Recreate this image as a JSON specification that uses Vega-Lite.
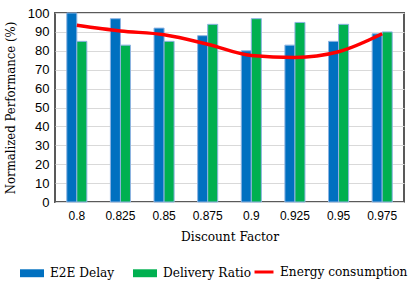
{
  "$schema": "https://vega.github.io/schema/vega-lite/v6.json",
  "width": 349,
  "height": 189,
  "autosize": "none",
  "padding": {"left": 55, "top": 13, "right": 11, "bottom": 90},
  "background": "white",
  "config": {
    "view": {"stroke": "#595959", "strokeWidth": 2},
    "axis": {"labelColor": "black", "titleColor": "black", "titleFontWeight": "normal", "ticks": false, "domain": false},
    "axisX": {"labelFont": "Liberation Sans", "labelFontSize": 12, "labelPadding": 8, "labelAngle": 0, "titleFont": "DejaVu Serif Condensed", "titleFontSize": 13.5, "titlePadding": 8, "grid": false},
    "axisY": {"labelFont": "Liberation Sans", "labelFontSize": 13, "labelPadding": 6, "labelOverlap": false, "titleFont": "DejaVu Serif Condensed", "titleFontSize": 13, "titlePadding": 10, "gridColor": "#D9D9D9", "gridWidth": 1},
    "legend": {"labelFont": "DejaVu Serif Condensed", "labelFontSize": 13.5, "labelColor": "black", "padding": 0}
  },
  "data": {
    "values": [
      {"factor": "0.8", "series": "E2E Delay", "value": 100},
      {"factor": "0.825", "series": "E2E Delay", "value": 97},
      {"factor": "0.85", "series": "E2E Delay", "value": 92},
      {"factor": "0.875", "series": "E2E Delay", "value": 88},
      {"factor": "0.9", "series": "E2E Delay", "value": 80},
      {"factor": "0.925", "series": "E2E Delay", "value": 83},
      {"factor": "0.95", "series": "E2E Delay", "value": 85},
      {"factor": "0.975", "series": "E2E Delay", "value": 89},
      {"factor": "0.8", "series": "Delivery Ratio", "value": 85},
      {"factor": "0.825", "series": "Delivery Ratio", "value": 83},
      {"factor": "0.85", "series": "Delivery Ratio", "value": 85},
      {"factor": "0.875", "series": "Delivery Ratio", "value": 94},
      {"factor": "0.9", "series": "Delivery Ratio", "value": 97},
      {"factor": "0.925", "series": "Delivery Ratio", "value": 95},
      {"factor": "0.95", "series": "Delivery Ratio", "value": 94},
      {"factor": "0.975", "series": "Delivery Ratio", "value": 90},
      {"factor": "0.8", "series": "Energy consumption", "value": 93.5},
      {"factor": "0.825", "series": "Energy consumption", "value": 90.5},
      {"factor": "0.85", "series": "Energy consumption", "value": 88.5},
      {"factor": "0.875", "series": "Energy consumption", "value": 83.5},
      {"factor": "0.9", "series": "Energy consumption", "value": 77.5},
      {"factor": "0.925", "series": "Energy consumption", "value": 76.5},
      {"factor": "0.95", "series": "Energy consumption", "value": 79.5},
      {"factor": "0.975", "series": "Energy consumption", "value": 89}
    ]
  },
  "encoding": {
    "x": {
      "field": "factor", "type": "nominal", "sort": null,
      "scale": {"paddingInner": 0.54, "paddingOuter": 0.27},
      "axis": {"title": "Discount Factor"}
    },
    "y": {
      "field": "value", "type": "quantitative",
      "scale": {"domain": [0, 100]},
      "axis": {"title": "Normalized Performance (%)", "values": [0,10,20,30,40,50,60,70,80,90,100]}
    }
  },
  "layer": [
    {
      "transform": [{"filter": "datum.series !== 'Energy consumption'"}],
      "mark": {"type": "bar", "stroke": "#8DB3E2", "strokeWidth": 1},
      "encoding": {
        "xOffset": {"field": "series", "type": "nominal", "sort": ["E2E Delay", "Delivery Ratio"]},
        "fill": {
          "field": "series", "type": "nominal",
          "scale": {"domain": ["E2E Delay", "Delivery Ratio"], "range": ["#0070C0", "#00B050"]},
          "legend": {
            "title": null, "orient": "none", "direction": "horizontal", "legendX": -35, "legendY": 248,
            "symbolType": "M-1,-0.33L1,-0.33L1,0.33L-1,0.33Z", "symbolSize": 576, "symbolStrokeWidth": 0,
            "labelOffset": 6, "columnPadding": 18
          }
        }
      }
    },
    {
      "transform": [{"filter": "datum.series === 'Energy consumption'"}],
      "mark": {"type": "line", "strokeWidth": 3.5, "interpolate": "monotone"},
      "encoding": {
        "stroke": {
          "field": "series", "type": "nominal",
          "scale": {"domain": ["Energy consumption"], "range": ["#FF0000"]},
          "legend": {
            "title": null, "orient": "none", "legendX": 198, "legendY": 248,
            "symbolType": "stroke", "symbolSize": 360, "symbolStrokeWidth": 3, "labelOffset": 5
          }
        }
      }
    }
  ]
}
